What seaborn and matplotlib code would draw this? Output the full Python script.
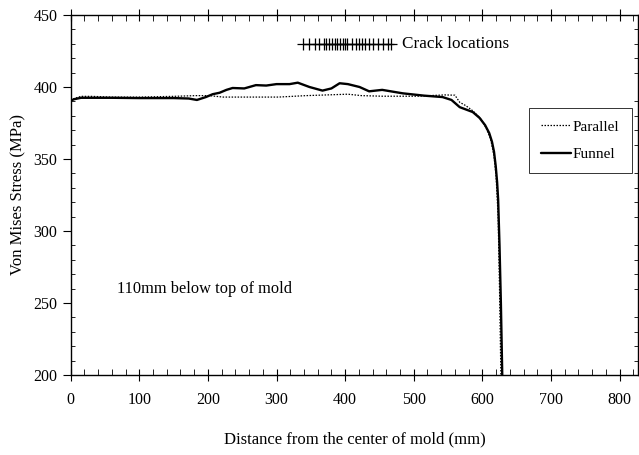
import numpy as np
import pandas as pd
import seaborn as sns
import matplotlib
matplotlib.use("Agg")
import matplotlib.pyplot as plt
from matplotlib.ticker import MultipleLocator

parallel_x = [0, 5, 15, 30, 60, 100, 150, 182, 202, 222, 252, 303, 343, 374, 404, 424, 454, 505, 545, 560, 567, 576, 586, 596, 605, 612, 617, 620, 623, 625, 627]
parallel_y = [390.5, 392, 393.5, 393.5, 393, 393, 393.5, 394, 394, 393, 393, 393, 394, 394.5, 395, 394, 393.6, 393.6, 394.5, 394.3, 389.4, 387, 383.5, 379, 372, 364, 352, 338, 310, 260, 200]

funnel_x = [0, 5, 15, 30, 60, 100, 150, 172, 184, 197, 207, 217, 227, 236, 253, 270, 285, 300, 319, 331, 348, 367, 380, 392, 404, 421, 435, 454, 484, 515, 542, 555, 567, 586, 596, 604, 610, 614, 617, 619.5, 621.5, 623, 625, 627, 629]
funnel_y = [390.5, 391.5, 392.5, 392.5, 392.5, 392.3, 392.3, 392, 391, 393, 395, 396, 398, 399.3, 399, 401.3, 401, 402, 402, 403, 400, 397.5, 399, 402.6, 402, 400, 397, 398, 395.6, 394, 393, 391, 386, 382.6, 378.5, 373.5, 368, 362, 355, 345, 334, 322, 290, 250, 200]

crack_x = [338.7, 346.8, 356.3, 361.9, 368.5, 372.5, 377, 380.6, 384.6, 388.6, 393.2, 396.7, 399.8, 402.3, 410.4, 415.9, 419.9, 424, 429.5, 435.1, 440.1, 447.2, 454.8, 461.8, 467.4]
crack_level = 430

sns.set_style("ticks")
plt.rcParams["font.family"] = ["Liberation Serif", "DejaVu Serif"]
plt.rcParams["text.color"] = "black"
plt.rcParams["axes.labelcolor"] = "black"
plt.rcParams["xtick.color"] = "black"
plt.rcParams["ytick.color"] = "black"

fig = plt.figure(figsize=(6.39, 4.55), dpi=100)
ax = fig.add_axes([0.1106, 0.176, 0.888, 0.791])

dfp = pd.DataFrame({"x": parallel_x, "y": parallel_y})
dff = pd.DataFrame({"x": funnel_x, "y": funnel_y})
sns.lineplot(data=dfp, x="x", y="y", ax=ax, color="black", lw=0.9,
             linestyle=(0, (1.2, 1.2)), estimator=None, sort=False, label="Parallel")
sns.lineplot(data=dff, x="x", y="y", ax=ax, color="black", lw=1.7,
             estimator=None, sort=False, label="Funnel")

ax.plot(crack_x, [crack_level] * len(crack_x), color="black", lw=0.9,
        marker="+", markersize=8, markeredgewidth=0.9, linestyle="-")
ax.text(483, crack_level, "Crack locations", fontsize=12.3,
        va="center", ha="left", color="black")
ax.text(68, 260, "110mm below top of mold", fontsize=11.8, va="center", ha="left",
        color="black")

ax.set_xlim(0, 827)
ax.set_ylim(200, 450)
ax.xaxis.set_major_locator(MultipleLocator(100))
ax.xaxis.set_minor_locator(MultipleLocator(20))
ax.yaxis.set_major_locator(MultipleLocator(50))
ax.yaxis.set_minor_locator(MultipleLocator(10))

ax.tick_params(axis="x", which="major", direction="inout", length=8, width=0.8,
               top=True, labelsize=11.5, pad=8, color="black", labelcolor="black")
ax.tick_params(axis="x", which="minor", direction="in", length=4, width=0.6, top=True)
ax.tick_params(axis="y", which="major", direction="out", length=6, width=0.8,
               right=True, labelsize=11.5, color="black", labelcolor="black")
ax.tick_params(axis="y", which="minor", direction="in", length=3, width=0.6, right=True)
for s in ax.spines.values():
    s.set_linewidth(1.0)
    s.set_color("black")

ax.set_xlabel("Distance from the center of mold (mm)", fontsize=12, labelpad=17,
              color="black")
ax.set_ylabel("Von Mises Stress (MPa)", fontsize=12, labelpad=5, color="black")

leg = ax.legend(loc="upper right", bbox_to_anchor=(0.989, 0.742), frameon=True,
                fancybox=False, edgecolor="black", fontsize=11, handlelength=2.0,
                handletextpad=0.1, borderpad=0.8, labelspacing=0.9,
                borderaxespad=0)
leg.get_frame().set_linewidth(0.7)
for t in leg.get_texts():
    t.set_color("black")

fig.savefig("out.png", dpi=100)
